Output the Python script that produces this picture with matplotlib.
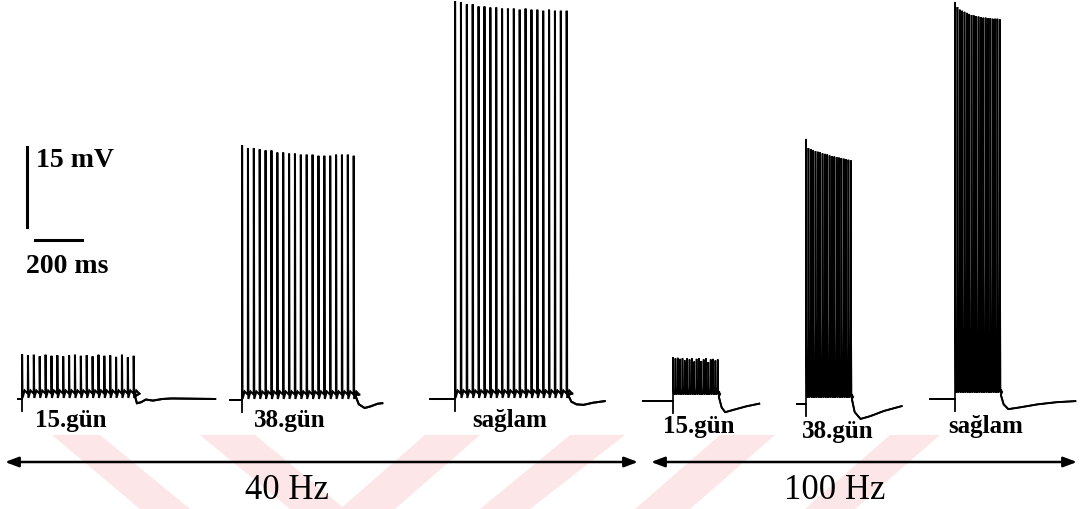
import numpy as np
import matplotlib.pyplot as plt
import matplotlib.transforms as mtransforms
from matplotlib.patches import Polygon

# scale bars of the original figure: 15 mV and 200 ms
PX_PER_MV = 80 / 15.0
PX_PER_MS = 47 / 200.0

# recordings: spike peaks (mV above resting level), 20 stimuli each
peaks_40_d15 = [8.4, 8.2, 8.3, 8.0, 8.3, 8.1, 8.2, 8.0, 8.2, 8.3,
                8.1, 8.2, 8.0, 8.3, 8.1, 8.2, 7.9, 8.3, 7.8, 8.1]
peaks_40_d38 = [47.8, 47.2, 47.2, 47.0, 46.8, 46.8, 46.4, 46.4, 46.2, 46.2,
                46.0, 46.0, 46.0, 45.8, 45.8, 45.8, 46.0, 46.0, 46.0, 45.8]
peaks_40_ctl = [74.6, 74.4, 74.0, 74.0, 73.6, 73.6, 73.4, 73.4, 73.2, 73.2,
                73.2, 73.0, 73.2, 73.0, 73.0, 72.8, 73.0, 72.8, 72.8, 72.8]
peaks_100_d15 = [8.2, 8.0, 8.1, 7.9, 8.0, 7.6, 8.0, 7.8, 8.0, 7.4,
                 7.9, 8.0, 7.5, 7.8, 8.0, 7.3, 7.8, 7.9, 7.6, 7.8]
peaks_100_d38 = [49.7, 48.0, 47.8, 47.6, 47.4, 47.3, 47.2, 47.0, 46.9, 46.8,
                 46.6, 46.5, 46.4, 46.3, 46.2, 46.1, 46.0, 45.9, 45.8, 45.7]
peaks_100_ctl = [74.4, 73.5, 73.0, 72.8, 72.6, 72.4, 72.2, 72.0, 71.9, 71.8,
                 71.7, 71.6, 71.5, 71.5, 71.4, 71.4, 71.3, 71.3, 71.3, 71.2]

# after-hyperpolarisation following each train: (ms after last spike, mV)
ahp_40_d15 = [(4, 0.5), (12, -0.8), (30, -0.6), (50, -0.1), (80, -0.3), (120, 0.0), (160, 0.1), (345, 0.0)]
ahp_40_d38 = [(4, 1.0), (20, -0.8), (45, -1.5), (70, -1.2), (100, -0.7), (120, -0.6)]
ahp_40_ctl = [(4, 0.8), (18, -0.5), (40, -1.0), (70, -1.1), (110, -0.7), (160, -0.4)]
ahp_100_d15 = [(3, 0.8), (15, -1.2), (30, -2.1), (70, -1.6), (120, -1.0), (175, -0.5)]
ahp_100_d38 = [(3, 1.0), (15, -1.5), (40, -2.8), (80, -2.3), (140, -1.3), (215, -0.4)]
ahp_100_ctl = [(3, 0.8), (15, -1.0), (35, -1.9), (80, -1.6), (160, -1.0), (240, -0.6), (320, -0.4)]

day_labels = ["15.gün", "38.gün", "sağlam"]
freq_labels = ["40 Hz", "100 Hz"]
isi_ms = {"40 Hz": 25.0, "100 Hz": 10.0}

traces = [
    # freq, peaks, ahp, onset px, baseline px, lead ms
    ("40 Hz", peaks_40_d15, ahp_40_d15, 22, 400, 17),
    ("40 Hz", peaks_40_d38, ahp_40_d38, 242, 401, 50),
    ("40 Hz", peaks_40_ctl, ahp_40_ctl, 455, 400, 106),
    ("100 Hz", peaks_100_d15, ahp_100_d15, 673, 402, 128),
    ("100 Hz", peaks_100_d38, ahp_100_d38, 806, 405, 38),
    ("100 Hz", peaks_100_ctl, ahp_100_ctl, 955, 400, 106),
]
label_pos = [(71, 421), (290, 421), (510, 421), (699, 427), (838, 432), (986, 427)]


def spike_train(peaks, isi, ahp, lead):
    t, v = [-lead, 0.0], [0.0, 0.0]
    for i, pk in enumerate(peaks):
        t0 = i * isi
        if isi > 20:
            t += [t0 + 0.3, t0 + 0.5, t0 + 2.2, t0 + isi * 0.45, t0 + isi - 0.2]
            v += [pk, pk * 0.97, 0.2, 1.6, 1.0]
        else:
            # fast trains: the falling phase broadens near the base
            t += [t0 + 0.3, t0 + 0.6, t0 + 1.6, t0 + 3.6, t0 + 6.5, t0 + isi - 0.3]
            v += [pk, pk * 0.97, pk * 0.35, 1.2, 1.8, 1.3]
    tend = (len(peaks) - 1) * isi + 2.0
    t += [tend + a for a, _ in ahp]
    v += [b for _, b in ahp]
    return np.array(t), np.array(v)


fig = plt.figure(figsize=(10.83, 5.10), dpi=100)
ax = fig.add_axes([0, 0, 1, 1])
ax.set_xlim(0, 1083)
ax.set_ylim(510, 0)
ax.axis("off")

# faint pink watermark bands of the scanned page
bands = [((52, 100), (140, 190)), ((200, 255), (290, 345)), ((425, 480), (340, 395)),
         ((570, 625), (480, 530)), ((720, 775), (635, 690)), ((890, 940), (805, 855))]
for (a, b), (c, d) in bands:
    ax.add_patch(Polygon([(a, 436), (b, 436), (d, 510), (c, 510)], closed=True,
                         facecolor="#fde6e8", edgecolor="none", zorder=0))

serif = ["Liberation Serif", "DejaVu Serif"]
for k, (freq, peaks, ahp, x_on, y_base, lead) in enumerate(traces):
    t, v = spike_train(peaks, isi_ms[freq], ahp, lead)
    tr = mtransforms.Affine2D().scale(PX_PER_MS, -PX_PER_MV).translate(x_on, y_base) + ax.transData
    lw = 1.45 if freq == "40 Hz" else 1.2
    ax.plot(t, v, color="black", lw=lw, transform=tr, solid_joinstyle="miter", zorder=2)
    # continuous baseline before and after the train
    ax.plot([-lead, 0], [0, 0], color="black", lw=1.4, transform=tr, zorder=2)
    ax.plot(t[-len(ahp) - 1:], v[-len(ahp) - 1:], color="black", lw=1.4, transform=tr, zorder=2)
    # stimulus onset tick
    ax.plot([0, 0], [0, -2.2], color="black", lw=1.3, transform=tr, zorder=2)
    lx, ly = label_pos[k]
    ax.text(lx, ly, day_labels[k % 3], ha="center", va="center", fontsize=18,
            fontweight="bold", family=serif)

# scale bars
ax.plot([27, 27], [148, 228], color="black", lw=2.2)
ax.plot([35, 82], [241, 241], color="black", lw=2.2)
ax.text(36, 161, "15 mV", ha="left", va="center", fontsize=20, fontweight="bold", family=serif)
ax.text(26, 267, "200 ms", ha="left", va="center", fontsize=20, fontweight="bold", family=serif)

# frequency arrows
for (x1, x2), lab, cx in zip([(5, 638), (651, 1077)], freq_labels, [287, 835]):
    ax.annotate("", xy=(x2, 463), xytext=(x1, 463),
                arrowprops=dict(arrowstyle="<|-|>,head_length=0.8,head_width=0.3",
                                color="black", lw=1.8, shrinkA=0, shrinkB=0))
    ax.text(cx, 491, lab, ha="center", va="center", fontsize=25, family=serif)

fig.savefig("out.png", dpi=100, facecolor="white")
